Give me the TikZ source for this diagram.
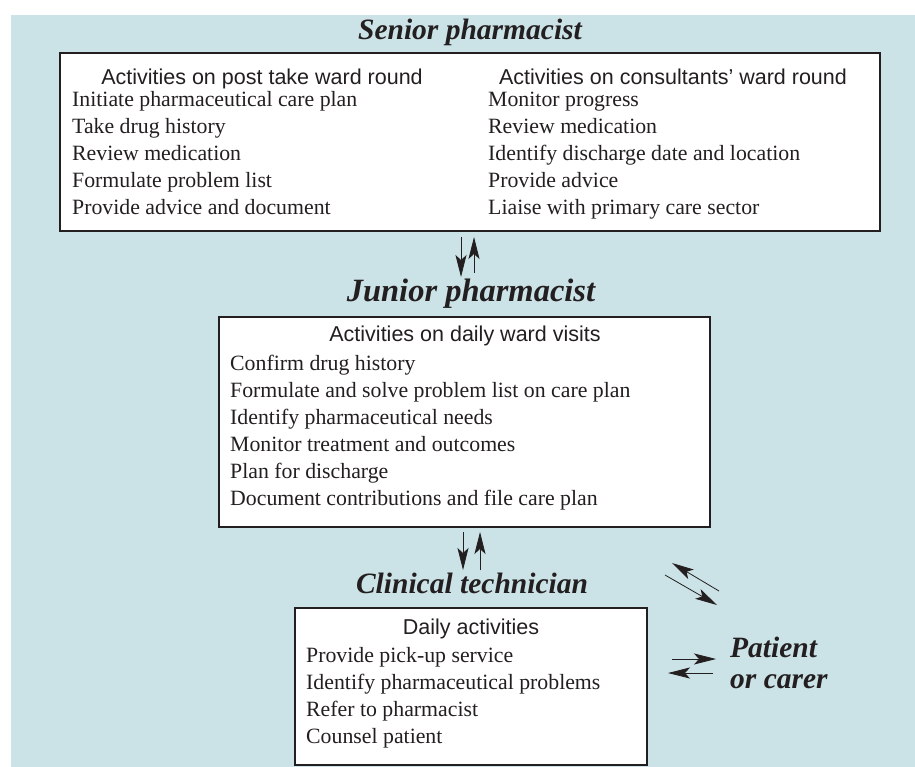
\documentclass[tikz,border=0pt]{standalone}
\usepackage{fontspec}
\setmainfont{Liberation Serif}
\newfontfamily\hdfont{Liberation Sans}
\usetikzlibrary{arrows.meta}
\definecolor{bg}{HTML}{CBE2E6}
\definecolor{ink}{HTML}{231F20}
\begin{document}
\begin{tikzpicture}[x=1pt,y=-1pt,
  box/.style={draw=ink,line width=2pt,fill=white,inner sep=0pt},
  hd/.style={font=\hdfont\fontsize{21.5}{24}\selectfont,text=ink,anchor=base,inner sep=0pt},
  item/.style={font=\fontsize{21.8}{24}\selectfont,text=ink,anchor=base west,inner sep=0pt},
  ttl/.style={font=\bfseries\itshape\fontsize{29.5}{32}\selectfont,text=ink,anchor=base,inner sep=0pt},
  role/.style={font=\bfseries\itshape\fontsize{29.5}{32}\selectfont,text=ink,anchor=base west,inner sep=0pt},
  arr/.style={-{Stealth[length=22pt,width=11pt,inset=5pt]},line width=0.8pt,draw=ink}]
\useasboundingbox (0,0) rectangle (915,767);
\fill[bg] (11,15) rectangle (915,767);

% titles
\node[ttl] (tsen) at (470,40) {Senior pharmacist};
\node[ttl,font=\bfseries\itshape\fontsize{32.5}{34}\selectfont] (tjun) at (471,301) {Junior pharmacist};
\node[ttl] (tcli) at (472,593) {Clinical technician};
\node[role] (tpat) at (730,657) {Patient};
\node[role] (tcar) at (730,688) {or carer};

% boxes
\node[box,minimum width=820pt,minimum height=178pt] (senior) at (470,142) {};
\node[box,minimum width=491pt,minimum height=210pt] (junior) at (464.5,422) {};
\node[box,minimum width=352pt,minimum height=157pt] (tech) at (471,686.5) {};

% senior box contents
\node[hd] (h1) at (262,85) {Activities on post take ward round};
\node[item] (a1) at (72,107) {Initiate pharmaceutical care plan};
\node[item] (a2) at (72,134) {Take drug history};
\node[item] (a3) at (72,161) {Review medication};
\node[item] (a4) at (72,188) {Formulate problem list};
\node[item] (a5) at (72,215) {Provide advice and document};
\node[hd] (h2) at (673,85) {Activities on consultants’ ward round};
\node[item] (b1) at (488,107) {Monitor progress};
\node[item] (b2) at (488,134) {Review medication};
\node[item] (b3) at (488,161) {Identify discharge date and location};
\node[item] (b4) at (488,188) {Provide advice};
\node[item] (b5) at (488,215) {Liaise with primary care sector};

% junior box contents
\node[hd] (h3) at (465,341) {Activities on daily ward visits};
\node[item] (c1) at (230,370) {Confirm drug history};
\node[item] (c2) at (230,397) {Formulate and solve problem list on care plan};
\node[item] (c3) at (230,424) {Identify pharmaceutical needs};
\node[item] (c4) at (230,451) {Monitor treatment and outcomes};
\node[item] (c5) at (230,478) {Plan for discharge};
\node[item] (c6) at (230,505) {Document contributions and file care plan};

% technician box contents
\node[hd] (h4) at (471,634) {Daily activities};
\node[item] (d1) at (306,662) {Provide pick-up service};
\node[item] (d2) at (306,689) {Identify pharmaceutical problems};
\node[item] (d3) at (306,716) {Refer to pharmacist};
\node[item] (d4) at (306,743) {Counsel patient};

% connector end points
\coordinate (p1) at (461,237); \coordinate (p2) at (461,277);
\coordinate (p3) at (474,273); \coordinate (p4) at (474,237);
\coordinate (q1) at (463,532); \coordinate (q2) at (463,570);
\coordinate (q3) at (480,570); \coordinate (q4) at (480,532);
\coordinate (r1) at (719,591); \coordinate (r2) at (672,563);
\coordinate (r3) at (665,575); \coordinate (r4) at (717,605);
\coordinate (s1) at (672,659); \coordinate (s2) at (716,659);
\coordinate (s3) at (713,673); \coordinate (s4) at (668,673);

\draw[arr] (p1) -- (p2);
\draw[arr] (p3) -- (p4);
\draw[arr] (q1) -- (q2);
\draw[arr] (q3) -- (q4);
\draw[arr] (r1) -- (r2);
\draw[arr] (r3) -- (r4);
\draw[arr] (s1) -- (s2);
\draw[arr] (s3) -- (s4);
\end{tikzpicture}
\end{document}
